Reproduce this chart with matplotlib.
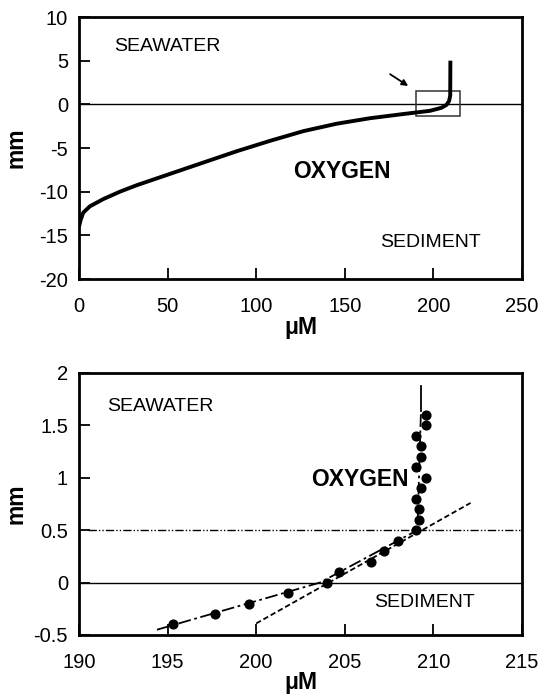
import matplotlib
matplotlib.use("Agg")
import matplotlib.pyplot as plt
from matplotlib.patches import Rectangle

plt.rcParams['font.family'] = ['Liberation Sans', 'DejaVu Sans']
plt.rcParams['axes.unicode_minus'] = False

# ---------------- data ----------------
# top panel: full oxygen profile
top_conc = [0, 1.0, 2.4, 6.2, 13.7, 23.1, 32.6, 51.4, 70.1, 89.0, 107.8, 126.6,
            145.4, 164.2, 183.0, 198.1, 204.5, 207.5, 208.9, 209.5, 209.6]
top_depth = [-14.0, -13.2, -12.4, -11.67, -10.85, -10.0, -9.26, -7.96, -6.67, -5.37,
             -4.18, -3.07, -2.22, -1.59, -1.11, -0.74, -0.4, -0.05, 0.4, 1.0, 5.0]
top_xticks = [0, 50, 100, 150, 200, 250]
top_yticks = [10, 5, 0, -5, -10, -15, -20]
zoom_box_x = [190, 215]
zoom_box_y = [-1.3, 1.5]
arrow_from = (175.6, 3.45)
arrow_to = (185.8, 2.1)

# bottom panel: measured points near the interface
pt_conc = [195.3, 197.7, 199.6, 201.8, 204.0, 204.7, 206.5, 207.2, 208.0, 209.0,
           209.2, 209.2, 209.0, 209.3, 209.6, 209.0, 209.3, 209.3, 209.0, 209.6, 209.6]
pt_depth = [-0.4, -0.3, -0.2, -0.1, 0.0, 0.1, 0.2, 0.3, 0.4, 0.5,
            0.6, 0.7, 0.8, 0.9, 1.0, 1.1, 1.2, 1.3, 1.4, 1.5, 1.6]
fit_conc = [194.4, 203.6, 209.1, 209.3]
fit_depth = [-0.45, 0.0, 0.5, 1.64]
solid_conc = [209.3, 209.3]
solid_depth = [1.64, 1.88]
tan_conc = [200.0, 212.1]
tan_depth = [-0.39, 0.76]
dbl_depth = 0.5
dbl_x = [190.5, 215]
bot_xticks = [190, 195, 200, 205, 210, 215]
bot_yticks = [2, 1.5, 1, 0.5, 0, -0.5]

# ---------------- figure ----------------
fig = plt.figure(figsize=(5.52, 6.97), dpi=100)
ax1 = fig.add_axes([0.1431, 0.5997, 0.8025, 0.3759])
ax2 = fig.add_axes([0.1431, 0.0890, 0.8025, 0.3759])

tick_fs = 14.5
lab_fs = 16.5
txt_fs = 14
big_fs = 16.5


def style(ax):
    for s in ax.spines.values():
        s.set_linewidth(2.0)
    ax.tick_params(direction='in', length=8, width=1.3, labelsize=tick_fs,
                   top=False, right=False)
    ax.tick_params(axis='x', pad=13)
    ax.tick_params(axis='y', pad=8)


def fmt(v):
    return ('%g' % v)


# ---- top panel ----
ax1.plot(top_conc, top_depth, color='black', lw=2.8, solid_capstyle='butt', zorder=3)
ax1.axhline(0, color='black', lw=1.0, zorder=2)
ax1.add_patch(Rectangle((zoom_box_x[0], zoom_box_y[0]), zoom_box_x[1] - zoom_box_x[0],
                        zoom_box_y[1] - zoom_box_y[0], fill=False, ec='#333333', lw=1.1,
                        zorder=2, clip_on=False))
ax1.annotate('', xy=arrow_to, xytext=arrow_from,
             arrowprops=dict(arrowstyle='-|>', color='black', lw=1.3,
                             mutation_scale=9, shrinkA=0, shrinkB=0))
ax1.set_xlim(0, 250)
ax1.set_ylim(-20, 10)
ax1.set_xticks(top_xticks)
ax1.set_xticklabels([fmt(v) for v in top_xticks])
ax1.set_yticks(top_yticks)
ax1.set_yticklabels([fmt(v) for v in top_yticks])
style(ax1)
ax1.text(19.9, 6.6, 'SEAWATER', fontsize=txt_fs, ha='left', va='center')
ax1.text(120.8, -7.7, 'OXYGEN', fontsize=big_fs, fontweight='bold', ha='left', va='center')
ax1.text(170.1, -15.8, 'SEDIMENT', fontsize=txt_fs, ha='left', va='center')
ax1.set_xlabel('μM', fontsize=lab_fs, fontweight='bold')
ax1.set_ylabel('mm', fontsize=lab_fs, fontweight='bold')
ax1.xaxis.set_label_coords(0.5, -0.14)
ax1.yaxis.set_label_coords(-0.117, 0.5)

# ---- bottom panel ----
ax2.axhline(0, color='black', lw=1.0, zorder=2)
ax2.plot(dbl_x, [dbl_depth, dbl_depth], color='black', lw=1.0,
         dashes=(6, 1.5, 1, 1.5, 1, 1.5), zorder=2)
ax2.plot(tan_conc, tan_depth, color='black', lw=1.3, dashes=(3, 1.6), zorder=2)
ax2.plot(fit_conc, fit_depth, color='black', lw=1.3, dashes=(7, 2, 1.5, 2), zorder=2)
ax2.plot(solid_conc, solid_depth, color='black', lw=1.3, zorder=2)
ax2.plot(pt_conc, pt_depth, 'o', color='black', markersize=6.3, zorder=4, clip_on=False)
ax2.set_xlim(190, 215)
ax2.set_ylim(-0.5, 2)
ax2.set_xticks(bot_xticks)
ax2.set_xticklabels([fmt(v) for v in bot_xticks])
ax2.set_yticks(bot_yticks)
ax2.set_yticklabels([fmt(v) for v in bot_yticks])
style(ax2)
ax2.text(191.6, 1.68, 'SEAWATER', fontsize=txt_fs, ha='left', va='center')
ax2.text(203.1, 0.98, 'OXYGEN', fontsize=big_fs, fontweight='bold', ha='left', va='center')
ax2.text(206.65, -0.19, 'SEDIMENT', fontsize=txt_fs, ha='left', va='center')
ax2.set_xlabel('μM', fontsize=lab_fs, fontweight='bold')
ax2.set_ylabel('mm', fontsize=lab_fs, fontweight='bold')
ax2.xaxis.set_label_coords(0.5, -0.138)
ax2.yaxis.set_label_coords(-0.117, 0.5)

fig.savefig('out.png', dpi=100)
